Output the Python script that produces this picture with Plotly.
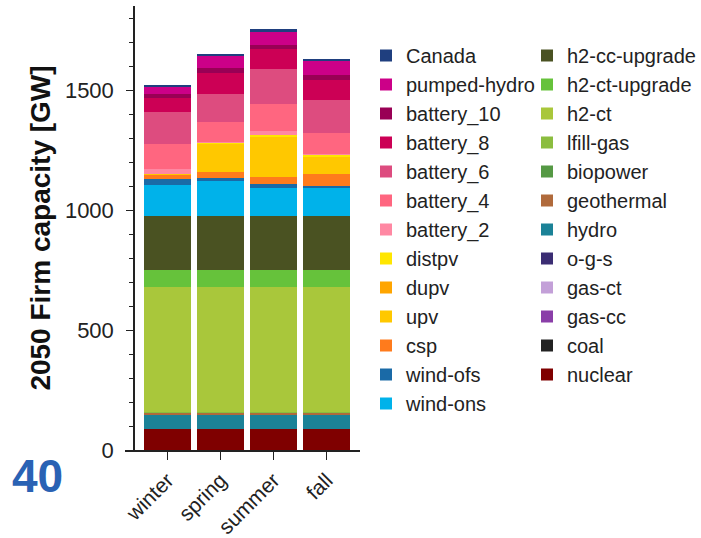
"""Stacked firm capacity by season, 2050"""

import plotly.graph_objects as go

seasons = ["winter", "spring", "summer", "fall"]

# stacking order, bottom first
techs = [
    "nuclear", "coal", "gas-cc", "gas-ct", "o-g-s", "hydro", "geothermal",
    "biopower", "lfill-gas", "h2-ct", "h2-ct-upgrade", "h2-cc-upgrade",
    "wind-ons", "wind-ofs", "csp", "upv", "dupv", "distpv",
    "battery_2", "battery_4", "battery_6", "battery_8", "battery_10",
    "pumped-hydro", "Canada",
]

nuclear = [87, 87, 87, 87]
coal = [0, 0, 0, 0]
gas_cc = [0, 0, 0, 0]
gas_ct = [0, 0, 0, 0]
o_g_s = [0, 0, 0, 0]
hydro = [62, 62, 62, 62]
geothermal = [8, 8, 8, 8]
biopower = [1, 1, 1, 1]
lfill_gas = [1, 1, 1, 1]
h2_ct = [520, 520, 522, 522]
h2_ct_upgrade = [70, 70, 70, 70]
h2_cc_upgrade = [226, 226, 225, 225]
wind_ons = [128, 149, 115, 115]
wind_ofs = [25, 8, 17, 10]
csp = [21, 26, 31, 49]
upv = [3, 118, 167, 69]
dupv = [0, 0, 0, 0]
distpv = [0, 5, 8, 11]
battery_2 = [17, 3, 17, 2]
battery_4 = [105, 81, 111, 89]
battery_6 = [133, 118, 146, 136]
battery_8 = [61, 86, 83, 86]
battery_10 = [14, 21, 18, 21]
pumped_hydro = [33, 53, 56, 60]
canada = [5, 7, 8, 6]

values = {
    "nuclear": nuclear, "coal": coal, "gas-cc": gas_cc, "gas-ct": gas_ct,
    "o-g-s": o_g_s, "hydro": hydro, "geothermal": geothermal,
    "biopower": biopower, "lfill-gas": lfill_gas, "h2-ct": h2_ct,
    "h2-ct-upgrade": h2_ct_upgrade, "h2-cc-upgrade": h2_cc_upgrade,
    "wind-ons": wind_ons, "wind-ofs": wind_ofs, "csp": csp, "upv": upv,
    "dupv": dupv, "distpv": distpv, "battery_2": battery_2,
    "battery_4": battery_4, "battery_6": battery_6, "battery_8": battery_8,
    "battery_10": battery_10, "pumped-hydro": pumped_hydro, "Canada": canada,
}

colors = {
    "nuclear": "#7f0000", "coal": "#222222", "gas-cc": "#8a3ea8",
    "gas-ct": "#c3a0d8", "o-g-s": "#3b2d73", "hydro": "#1b8297",
    "geothermal": "#b06a3b", "biopower": "#559944", "lfill-gas": "#8bbd3f",
    "h2-ct": "#a9c73b", "h2-ct-upgrade": "#66c23b", "h2-cc-upgrade": "#4a5222",
    "wind-ons": "#00b2ea", "wind-ofs": "#1a6aa7", "csp": "#ff7b1c",
    "upv": "#ffc800", "dupv": "#ffa500", "distpv": "#ffe600",
    "battery_2": "#ff88a3", "battery_4": "#ff6680", "battery_6": "#dd4c7f",
    "battery_8": "#cc0055", "battery_10": "#990055",
    "pumped-hydro": "#cc0088", "Canada": "#1f3f7f",
}

# right-hand legend column holds these
second_column = [
    "nuclear", "coal", "gas-cc", "gas-ct", "o-g-s", "hydro", "geothermal",
    "biopower", "lfill-gas", "h2-ct", "h2-ct-upgrade", "h2-cc-upgrade",
]

# pixel layout of the plot area
W, H = 701, 538
left, right, top, bottom = 125, 360, 6, 450
pw, ph = right - left, bottom - top


def px_x(x):
    return (x - left) / pw


def px_y(y):
    return (bottom - y) / ph


fig = go.Figure()
for tech in techs:
    fig.add_trace(go.Bar(
        x=seasons,
        y=values[tech],
        name=tech,
        marker=dict(color=colors[tech], line=dict(width=0)),
        legend="legend2" if tech in second_column else "legend",
    ))

font = "Arial, Liberation Sans, sans-serif"
legend_style = dict(
    traceorder="reversed",
    font=dict(family=font, size=20, color="#222222"),
    bgcolor="rgba(0,0,0,0)",
    yanchor="top",
    tracegroupgap=0,
    itemwidth=30,
)

fig.update_layout(
    barmode="stack",
    bargap=0.115,
    width=W,
    height=H,
    margin=dict(l=left, r=W - right, t=top, b=H - bottom, pad=0,
                autoexpand=False),
    plot_bgcolor="white",
    paper_bgcolor="white",
    font=dict(family=font, color="#222222"),
    legend=dict(x=px_x(366), y=px_y(36), **legend_style),
    legend2=dict(x=px_x(527), y=px_y(36), **legend_style),
    xaxis=dict(
        range=[-0.8, 3.63],
        automargin=False,
        showline=True,
        linecolor="#222222",
        linewidth=1.5,
        ticks="outside",
        ticklen=8,
        tickcolor="#222222",
        tickangle=-45,
        tickfont=dict(size=21, family=font, color="#222222"),
        showgrid=False,
        zeroline=False,
    ),
    yaxis=dict(
        range=[0, 1850],
        automargin=False,
        anchor="free",
        position=px_x(134),
        showline=True,
        linecolor="#222222",
        linewidth=1.5,
        ticks="outside",
        ticklen=7,
        tickcolor="#222222",
        tickvals=[0, 500, 1000, 1500],
        tickfont=dict(size=22, family=font, color="#222222"),
        ticklabelstandoff=8,
        minor=dict(ticks="outside", ticklen=4, dtick=100, tickcolor="#222222",
                   showgrid=False),
        showgrid=False,
        zeroline=False,
        title=dict(
            text="<b>2050 Firm capacity [GW]</b>",
            font=dict(size=28, family=font, color="#111111"),
            standoff=5,
        ),
    ),
)

fig.add_annotation(
    text="<b>40</b>",
    xref="paper", yref="paper",
    x=px_x(10), y=px_y(476),
    xanchor="left", yanchor="middle",
    showarrow=False,
    font=dict(size=46, family=font, color="#2a62b4"),
)

# drop the page's default body margin so the figure sits at the corner
fig.write_html(
    "out.html",
    config={"displayModeBar": False},
    post_script="document.body.style.margin = '0';",
)
